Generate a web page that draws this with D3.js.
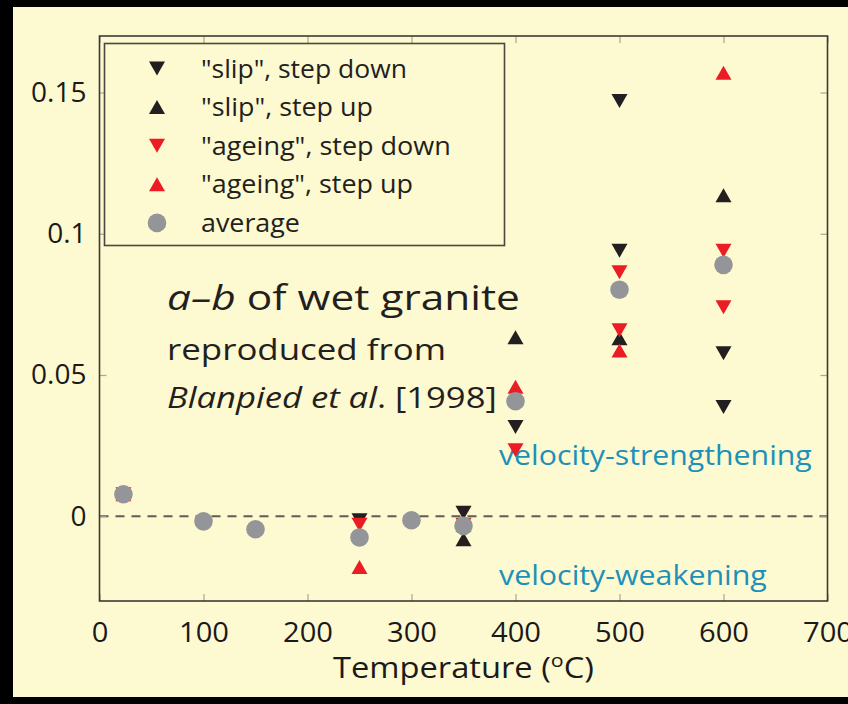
<!DOCTYPE html>
<html>
<head>
<meta charset="utf-8">
<script src="https://cdn.jsdelivr.net/npm/d3@7"></script>
<style>
  html, body { margin: 0; padding: 0; background: #000; }
  svg { display: block; }
</style>
</head>
<body>
<svg id="chart" width="848" height="704"></svg>
<script>
// ---------- data ----------
const xTicks = [0, 100, 200, 300, 400, 500, 600, 700];
const yTicks = [0, 0.05, 0.1, 0.15];
const yTickLabels = ["0", "0.05", "0.1", "0.15"];

const slipDownT = [250, 350, 400, 500, 500, 600, 600];
const slipDownV = [-0.0014, 0.0012, 0.0316, 0.147, 0.094, 0.0577, 0.0387];

const slipUpT = [350, 400, 500, 600];
const slipUpV = [-0.0081, 0.0634, 0.063, 0.1136];

const ageDownT = [23, 250, 350, 400, 500, 500, 600, 600];
const ageDownV = [0.0078, -0.003, -0.003, 0.0234, 0.0864, 0.0658, 0.094, 0.074];

const ageUpT = [23, 250, 350, 400, 500, 600];
const ageUpV = [0.0078, -0.018, -0.003, 0.0458, 0.0587, 0.157];

const avgT = [23, 100, 150, 250, 300, 350, 400, 500, 600];
const avgV = [0.0078, -0.0018, -0.0046, -0.0075, -0.0014, -0.0034, 0.0407, 0.0802, 0.089];

const legendLabels = ['"slip", step down', '"slip", step up', '"ageing", step down', '"ageing", step up', 'average'];

// ---------- layout ----------
const svg = d3.select("#chart");
const W = 848, H = 704;
const m = { left: 99.5, top: 36, right: 827.5, bottom: 601 };
const BG = "#fdf9d0";
const BLACK = "#231f20", RED = "#ec1c24", GRAY = "#939598", TEAL = "#1b91ba";
const FONT = "'Open Sans', 'DejaVu Sans', sans-serif";

// stretch a text horizontally (about its anchor x) to a target width
function fitWidth(sel, x0, target) {
  const w = sel.node().getComputedTextLength();
  if (w > 0) {
    const s = target / w;
    sel.attr("transform", `translate(${x0},0) scale(${s},1) translate(${-x0},0)`);
  }
}

svg.append("rect").attr("x", 0).attr("y", 0).attr("width", W).attr("height", H).attr("fill", "#000");
svg.append("rect").attr("x", 13).attr("y", 7).attr("width", W - 13).attr("height", 690).attr("fill", BG);

const x = d3.scaleLinear().domain([0, 700]).range([m.left, m.right]);
const y = d3.scaleLinear().domain([-0.03, 0.17]).range([m.bottom, m.top]);

// zero dashed line
svg.append("line")
  .attr("x1", m.left).attr("x2", m.right)
  .attr("y1", y(0)).attr("y2", y(0))
  .attr("stroke", "#5f5b55").attr("stroke-width", 2)
  .attr("stroke-dasharray", "9,7");

// axes with inward ticks
function styleAxis(g) {
  g.select(".domain").remove();
  g.selectAll(".tick line").attr("stroke", "#a9a69a").attr("stroke-width", 1.2);
  g.selectAll(".tick text").attr("fill", "#1a1a1a")
    .style("font-family", FONT).style("font-size", "28px");
}
const gx = svg.append("g").attr("transform", `translate(0,${m.bottom})`)
  .call(d3.axisBottom(x).tickValues(xTicks).tickSize(-7).tickPadding(21).tickFormat(d3.format("d")))
  .call(styleAxis);
gx.selectAll(".tick text").attr("transform", "scale(1.04,1)");
svg.append("g").attr("transform", `translate(0,${m.top})`)
  .call(d3.axisTop(x).tickValues(xTicks).tickSize(-7).tickFormat(""))
  .call(styleAxis);
svg.append("g").attr("transform", `translate(${m.left},0)`)
  .call(d3.axisLeft(y).tickValues(yTicks).tickSize(-7).tickPadding(13)
        .tickFormat((d, i) => yTickLabels[i]))
  .call(styleAxis);
svg.append("g").attr("transform", `translate(${m.right},0)`)
  .call(d3.axisRight(y).tickValues(yTicks).tickSize(-7).tickFormat(""))
  .call(styleAxis);

// frame
svg.append("rect")
  .attr("x", m.left).attr("y", m.top)
  .attr("width", m.right - m.left).attr("height", m.bottom - m.top)
  .attr("fill", "none").attr("stroke", "#3c3a36").attr("stroke-width", 1.6);

// axis title
const xt = svg.append("text")
  .attr("x", 333).attr("y", 678)
  .style("font-family", FONT).style("font-size", "29px").attr("fill", "#1a1a1a");
xt.append("tspan").text("Temperature (");
xt.append("tspan").attr("dy", -11).style("font-size", "19px").text("o");
xt.append("tspan").attr("dy", 11).text("C)");
fitWidth(xt, 333, 261);

// annotations
const ann = svg.append("g").attr("fill", "#231f20").style("font-family", FONT);
const t1 = ann.append("text").attr("x", 167).attr("y", 310).style("font-size", "34px");
t1.append("tspan").style("font-style", "italic").text("a–b");
t1.append("tspan").text(" of wet granite");
fitWidth(t1, 167, 353);
const t2 = ann.append("text").attr("x", 167).attr("y", 360).style("font-size", "30px").text("reproduced from");
fitWidth(t2, 167, 279);
const t3 = ann.append("text").attr("x", 167).attr("y", 408).style("font-size", "30px");
t3.append("tspan").style("font-style", "italic").text("Blanpied et al");
t3.append("tspan").text(". [1998]");
fitWidth(t3, 167, 330);

const v1 = svg.append("text").attr("x", 499).attr("y", 465)
  .style("font-family", FONT).style("font-size", "28px").attr("fill", TEAL)
  .text("velocity-strengthening");
fitWidth(v1, 499, 313);
const v2 = svg.append("text").attr("x", 499).attr("y", 585)
  .style("font-family", FONT).style("font-size", "28px").attr("fill", TEAL)
  .text("velocity-weakening");
fitWidth(v2, 499, 268);

// markers
const TW = 16, TH = 14;
const upPath = `M0,${-TH / 2}L${TW / 2},${TH / 2}L${-TW / 2},${TH / 2}Z`;
const downPath = `M0,${TH / 2}L${TW / 2},${-TH / 2}L${-TW / 2},${-TH / 2}Z`;
const pts = (T, V) => T.map((t, i) => ({ t, v: V[i] }));

function tri(data, path, color) {
  svg.append("g").selectAll("path").data(data).join("path")
    .attr("d", path).attr("fill", color)
    .attr("transform", d => `translate(${x(d.t)},${y(d.v)})`);
}
tri(pts(slipDownT, slipDownV), downPath, BLACK);
tri(pts(slipUpT, slipUpV), upPath, BLACK);
tri(pts(ageDownT, ageDownV), downPath, RED);
tri(pts(ageUpT, ageUpV), upPath, RED);
svg.append("g").selectAll("circle").data(pts(avgT, avgV)).join("circle")
  .attr("cx", d => x(d.t)).attr("cy", d => y(d.v)).attr("r", 9.3).attr("fill", GRAY);

// legend
const lg = svg.append("g");
lg.append("rect").attr("x", 104.5).attr("y", 43.5).attr("width", 400).attr("height", 202)
  .attr("fill", BG).attr("stroke", "#4a4741").attr("stroke-width", 1.6);
const legendMarks = [
  { type: "down", color: BLACK }, { type: "up", color: BLACK },
  { type: "down", color: RED }, { type: "up", color: RED }, { type: "circle", color: GRAY }
];
const legendWidths = [206, 172, 250, 212, 99];
legendLabels.forEach((lab, i) => {
  const cy = 68.5 + i * 38.6;
  const mk = legendMarks[i];
  if (mk.type === "circle") {
    lg.append("circle").attr("cx", 157).attr("cy", cy).attr("r", 9.3).attr("fill", mk.color);
  } else {
    lg.append("path").attr("d", mk.type === "up" ? upPath : downPath)
      .attr("transform", `translate(157,${cy})`).attr("fill", mk.color);
  }
  const lt = lg.append("text").attr("x", 201).attr("y", cy).attr("dy", "0.35em")
    .style("font-family", FONT).style("font-size", "26px").attr("fill", "#231f20").text(lab);
  fitWidth(lt, 201, legendWidths[i]);
});
</script>
</body>
</html>
